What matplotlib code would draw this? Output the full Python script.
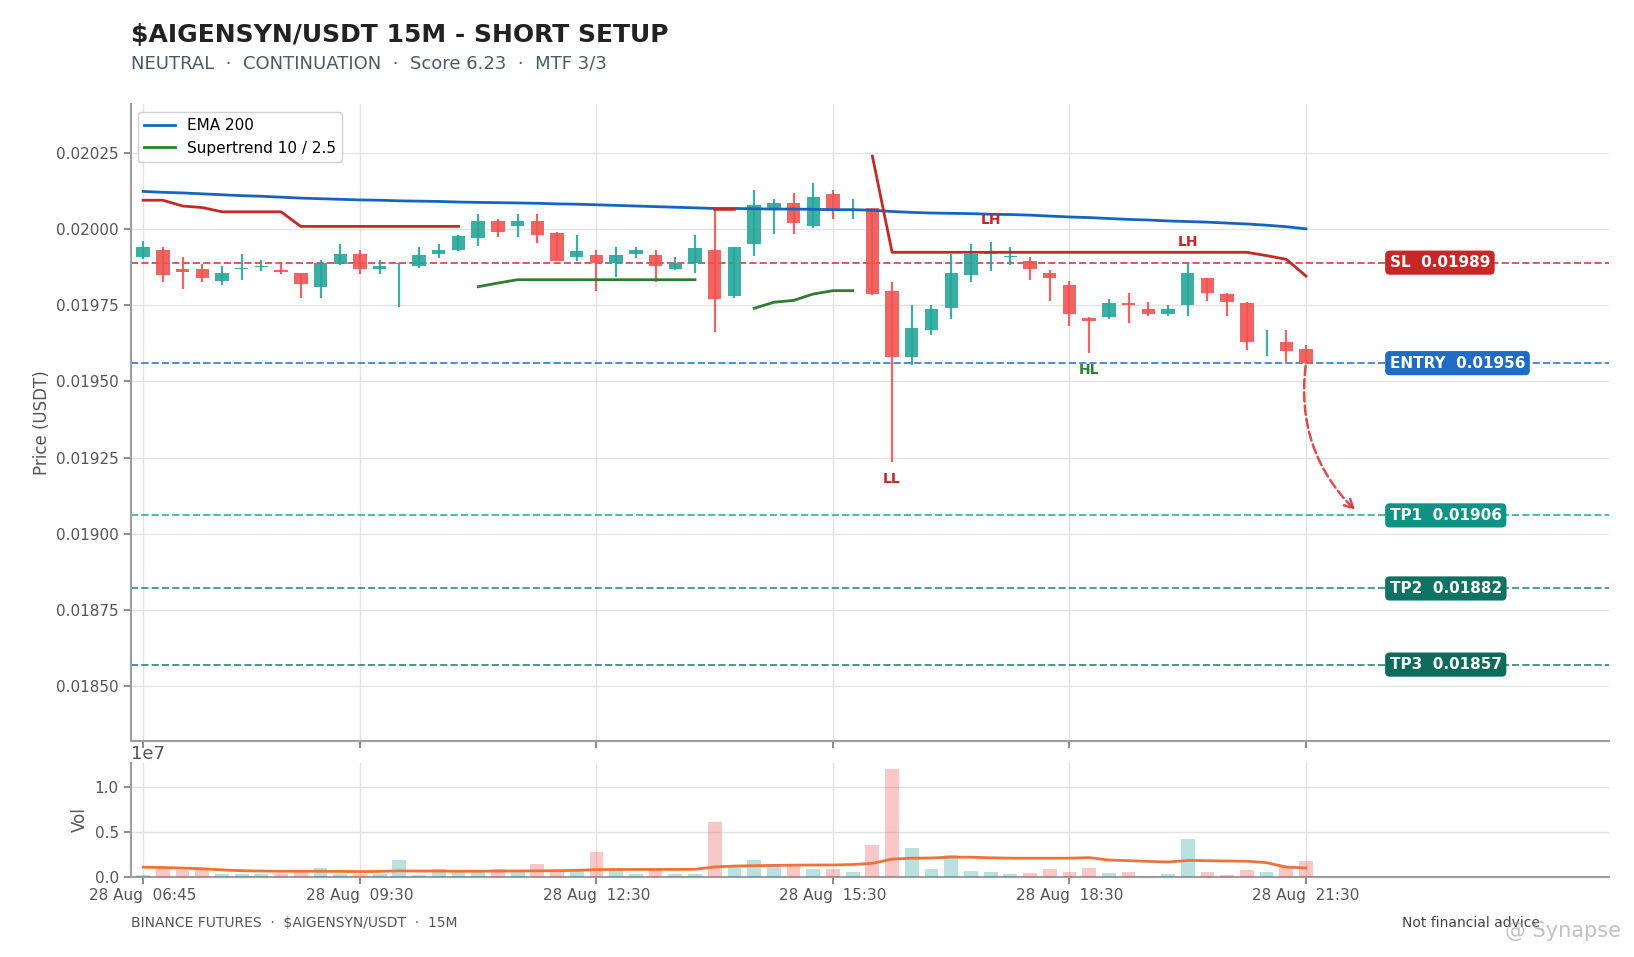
import numpy as np
import matplotlib
matplotlib.use('Agg')
import matplotlib.pyplot as plt
from matplotlib.patches import FancyArrowPatch
from matplotlib.ticker import FormatStrFormatter, MultipleLocator

# OHLC 15m candles, 28 Aug 06:45 -> 21:30
opens = [0.019908, 0.019930, 0.019868, 0.019868, 0.019829, 0.019868, 0.019875, 0.019866, 0.019857, 0.019809,
         0.019886, 0.019917, 0.019870, 0.019887, 0.019878, 0.019917, 0.019930, 0.019971, 0.020027, 0.020009,
         0.020027, 0.019989, 0.019908, 0.019916, 0.019888, 0.019918, 0.019916, 0.019869, 0.019888, 0.019930,
         0.019779, 0.019951, 0.020069, 0.020087, 0.020010, 0.020117, 0.020065, 0.020068, 0.019798, 0.019579,
         0.019668, 0.019740, 0.019849, 0.019918, 0.019908, 0.019897, 0.019857, 0.019818, 0.019709, 0.019711,
         0.019759, 0.019739, 0.019720, 0.019750, 0.019838, 0.019788, 0.019759, 0.019628, 0.019628, 0.019608]
highs = [0.019962, 0.019941, 0.019909, 0.019887, 0.019879, 0.019918, 0.019898, 0.019887, 0.019857, 0.019898,
         0.019951, 0.019933, 0.019898, 0.019889, 0.019941, 0.019951, 0.019981, 0.020050, 0.020032, 0.020050,
         0.020050, 0.019992, 0.019980, 0.019931, 0.019941, 0.019941, 0.019931, 0.019908, 0.019980, 0.020065,
         0.019942, 0.020128, 0.020099, 0.020118, 0.020151, 0.020128, 0.020099, 0.020071, 0.019828, 0.019750,
         0.019750, 0.019918, 0.019952, 0.019959, 0.019941, 0.019907, 0.019867, 0.019830, 0.019712, 0.019771,
         0.019791, 0.019760, 0.019750, 0.019888, 0.019840, 0.019791, 0.019762, 0.019669, 0.019669, 0.019619]
lows = [0.019902, 0.019825, 0.019805, 0.019825, 0.019815, 0.019834, 0.019864, 0.019854, 0.019774, 0.019774,
        0.019883, 0.019853, 0.019853, 0.019746, 0.019874, 0.019905, 0.019928, 0.019945, 0.019975, 0.019975,
        0.019956, 0.019894, 0.019894, 0.019796, 0.019844, 0.019904, 0.019825, 0.019865, 0.019855, 0.019662,
        0.019775, 0.019913, 0.019985, 0.019985, 0.020003, 0.020035, 0.020035, 0.019784, 0.019236, 0.019554,
        0.019652, 0.019706, 0.019825, 0.019863, 0.019883, 0.019832, 0.019764, 0.019682, 0.019593, 0.019706,
        0.019692, 0.019715, 0.019715, 0.019715, 0.019765, 0.019715, 0.019603, 0.019585, 0.019564, 0.019557]
closes = [0.019941, 0.019849, 0.019859, 0.019839, 0.019857, 0.019873, 0.019877, 0.019859, 0.019819, 0.019888,
          0.019917, 0.019868, 0.019878, 0.019889, 0.019916, 0.019930, 0.019979, 0.020027, 0.019990, 0.020027,
          0.019980, 0.019897, 0.019929, 0.019888, 0.019916, 0.019930, 0.019879, 0.019888, 0.019939, 0.019770,
          0.019940, 0.020078, 0.020087, 0.020020, 0.020107, 0.020059, 0.020067, 0.019787, 0.019579, 0.019677,
          0.019739, 0.019857, 0.019917, 0.019921, 0.019910, 0.019868, 0.019839, 0.019720, 0.019697, 0.019759,
          0.019750, 0.019720, 0.019739, 0.019857, 0.019789, 0.019760, 0.019628, 0.019631, 0.019599, 0.019560]

# volume (millions)
volume = [0.20, 1.05, 0.75, 0.82, 0.34, 0.34, 0.26, 0.26, 0.64, 1.01,
          0.26, 0.26, 0.26, 1.80, 0.15, 0.90, 0.67, 0.67, 0.90, 0.67,
          1.46, 0.71, 0.71, 2.70, 0.71, 0.34, 0.82, 0.34, 0.34, 6.07,
          1.35, 1.80, 1.46, 1.27, 0.90, 0.90, 0.56, 3.48, 12.0, 3.18,
          0.90, 2.36, 0.67, 0.56, 0.34, 0.45, 0.90, 0.56, 1.01, 0.41,
          0.52, 0.05, 0.30, 4.19, 0.52, 0.19, 0.74, 0.52, 1.11, 1.74]
vol_ma = [1.05, 1.02, 0.95, 0.88, 0.75, 0.66, 0.62, 0.60, 0.60, 0.60,
          0.58, 0.56, 0.58, 0.64, 0.62, 0.62, 0.60, 0.60, 0.62, 0.63,
          0.64, 0.66, 0.70, 0.78, 0.80, 0.80, 0.80, 0.80, 0.82, 1.08,
          1.18, 1.22, 1.25, 1.28, 1.30, 1.30, 1.35, 1.48, 1.95, 2.06,
          2.08, 2.18, 2.17, 2.10, 2.06, 2.05, 2.05, 2.06, 2.12, 1.85,
          1.78, 1.70, 1.63, 1.80, 1.78, 1.74, 1.72, 1.56, 1.07, 0.96]

ema200 = [0.020124, 0.020121, 0.020119, 0.020116, 0.020113, 0.020110, 0.020108, 0.020105, 0.020102, 0.020100,
          0.020098, 0.020096, 0.020095, 0.020093, 0.020092, 0.020091, 0.020089, 0.020088, 0.020087, 0.020086,
          0.020085, 0.020083, 0.020082, 0.020080, 0.020078, 0.020076, 0.020074, 0.020072, 0.020070, 0.020068,
          0.020068, 0.020067, 0.020066, 0.020066, 0.020065, 0.020064, 0.020064, 0.020062, 0.020058, 0.020055,
          0.020053, 0.020052, 0.020051, 0.020049, 0.020048, 0.020046, 0.020043, 0.020040, 0.020038, 0.020035,
          0.020032, 0.020030, 0.020027, 0.020025, 0.020023, 0.020020, 0.020017, 0.020013, 0.020008, 0.020001]

nan = np.nan
st_bear = [0.020095, 0.020095, 0.020076, 0.020071, 0.020057, 0.020057, 0.020057, 0.020057, 0.020009, 0.020009,
           0.020009, 0.020009, 0.020009, 0.020009, 0.020009, 0.020009, 0.020009, nan, nan, nan,
           nan, nan, nan, nan, nan, nan, nan, nan, nan, 0.020065,
           0.020065, nan, nan, nan, nan, nan, nan, 0.020240, 0.019924, 0.019924,
           0.019924, 0.019924, 0.019924, 0.019924, 0.019924, 0.019924, 0.019924, 0.019924, 0.019924, 0.019924,
           0.019924, 0.019924, 0.019924, 0.019924, 0.019924, 0.019924, 0.019924, 0.019913, 0.019901, 0.019846]
st_bull = [nan, nan, nan, nan, nan, nan, nan, nan, nan, nan,
           nan, nan, nan, nan, nan, nan, nan, 0.019811, 0.019823, 0.019834,
           0.019834, 0.019834, 0.019834, 0.019834, 0.019834, 0.019834, 0.019834, 0.019834, 0.019834, nan,
           nan, 0.019740, 0.019760, 0.019766, 0.019787, 0.019798, 0.019798, nan, nan, nan,
           nan, nan, nan, nan, nan, nan, nan, nan, nan, nan,
           nan, nan, nan, nan, nan, nan, nan, nan, nan, nan]

tick_idx = [0, 11, 23, 35, 47, 59]
tick_labels = ['28 Aug  06:45', '28 Aug  09:30', '28 Aug  12:30',
               '28 Aug  15:30', '28 Aug  18:30', '28 Aug  21:30']

level_names = ['SL', 'ENTRY', 'TP1', 'TP2', 'TP3']
level_prices = [0.01989, 0.01956, 0.01906, 0.01882, 0.01857]
level_line_colors = ['#d32f2f', '#1e6fcf', '#26a69a', '#1f8576', '#1f7a6c']
level_box_colors = ['#c62828', '#1f6cc4', '#0e9384', '#0f7262', '#0e6a5b']

swing_idx = [38, 43, 48, 53]
swing_text = ['LL', 'LH', 'HL', 'LH']

GREEN = '#26a69a'
RED = '#ef5350'

o = np.array(opens)
h = np.array(highs)
l = np.array(lows)
c = np.array(closes)
x = np.arange(len(o))
up = c >= o
col = np.where(up, GREEN, RED)

fig = plt.figure(figsize=(16.34, 9.57), dpi=100)
ax = fig.add_axes([0.080, 0.226, 0.905, 0.665])
axv = fig.add_axes([0.080, 0.084, 0.905, 0.119])

xlim = (-0.63, 74.4)

# candles
ax.vlines(x, l, h, colors=col, lw=1.6, alpha=0.9, zorder=3)
ax.bar(x, np.maximum(np.abs(c - o), 0.0000025), bottom=np.minimum(o, c),
       width=0.68, color=col, alpha=0.9, zorder=3)

ax.plot(x, ema200, color='#1565c0', lw=2, label='EMA 200', zorder=4)
ax.plot(x, st_bull, color='#2e7d32', lw=2, label='Supertrend 10 / 2.5', zorder=4)
ax.plot(x, st_bear, color='#c62828', lw=2, zorder=4)

# trade levels
for name, price, lc, bc in zip(level_names, level_prices, level_line_colors, level_box_colors):
    ax.axhline(price, color=lc, ls='--', lw=1.4, alpha=0.8, zorder=2)
    ax.text(63.25, price, f'{name}  {price:.5f}', color='white', fontsize=11,
            fontweight='bold', ha='left', va='center', zorder=6,
            bbox=dict(boxstyle='round,pad=0.3', fc=bc, ec='none'))

# swing labels
for i, t in zip(swing_idx, swing_text):
    if t == 'LH':
        ax.text(i, h[i] + 0.00007, t, color='#c62828', fontsize=10,
                fontweight='bold', ha='center', va='center', zorder=5)
    else:
        tc = '#2e7d32' if t == 'HL' else '#c62828'
        ax.text(i, l[i] - 0.000057, t, color=tc, fontsize=10,
                fontweight='bold', ha='center', va='center', zorder=5)

# projected move arrow
arrow = FancyArrowPatch((x[-1], level_prices[1]), (61.6, level_prices[2] + 0.00001),
                        connectionstyle='arc3,rad=0.25', arrowstyle='->',
                        mutation_scale=16, color='#d32f2f', lw=1.8, ls='--',
                        alpha=0.85, zorder=5)
ax.add_patch(arrow)

ax.set_xlim(*xlim)
ax.set_ylim(0.01832, 0.02041)
ax.yaxis.set_major_locator(MultipleLocator(0.00025))
ax.yaxis.set_major_formatter(FormatStrFormatter('%.5f'))
ax.set_xticks(tick_idx)
ax.set_xticklabels([])
ax.set_ylabel('Price (USDT)', fontsize=12, color='#555555')
ax.grid(True, color='#e2e2e2', lw=1)
ax.set_axisbelow(True)
ax.legend(loc='upper left', fontsize=11, frameon=True, framealpha=0.9,
          edgecolor='#cccccc')

# volume
axv.bar(x, np.array(volume) * 1e6, width=0.7, color=col, alpha=0.32, zorder=3)
axv.plot(x, np.array(vol_ma) * 1e6, color='#f07238', lw=2, zorder=4)
axv.set_xlim(*xlim)
axv.set_ylim(0, max(volume) * 1e6 * 1.06)
axv.set_yticks([0, 5e6, 1e7])
axv.set_xticks(tick_idx)
axv.set_xticklabels(tick_labels)
axv.set_ylabel('Vol', fontsize=12, color='#555555')
axv.grid(True, color='#e2e2e2', lw=1)
axv.set_axisbelow(True)
axv.yaxis.get_offset_text().set_fontsize(13)
axv.yaxis.get_offset_text().set_color('#555555')

for a in (ax, axv):
    for s in ('top', 'right'):
        a.spines[s].set_visible(False)
    for s in ('left', 'bottom'):
        a.spines[s].set_color('#9e9e9e')
        a.spines[s].set_linewidth(1.5)
    a.tick_params(colors='#777777', labelcolor='#555555', labelsize=11, length=5, width=1.2)

fig.text(0.080, 0.963, '$AIGENSYN/USDT 15M - SHORT SETUP', fontsize=18,
         fontweight='bold', color='#222222', va='center')
fig.text(0.080, 0.934, 'NEUTRAL  ·  CONTINUATION  ·  Score 6.23  ·  MTF 3/3',
         fontsize=13, color='#4a5a66', va='center')
fig.text(0.080, 0.036, 'BINANCE FUTURES  ·  $AIGENSYN/USDT  ·  15M',
         fontsize=10, color='#555555', va='center')
fig.text(0.858, 0.036, 'Not financial advice', fontsize=10, color='#444444', va='center')
fig.text(0.921, 0.027, '@ Synapse', fontsize=15, color='#999999', alpha=0.6, va='center')

fig.savefig('out.png', dpi=100)
